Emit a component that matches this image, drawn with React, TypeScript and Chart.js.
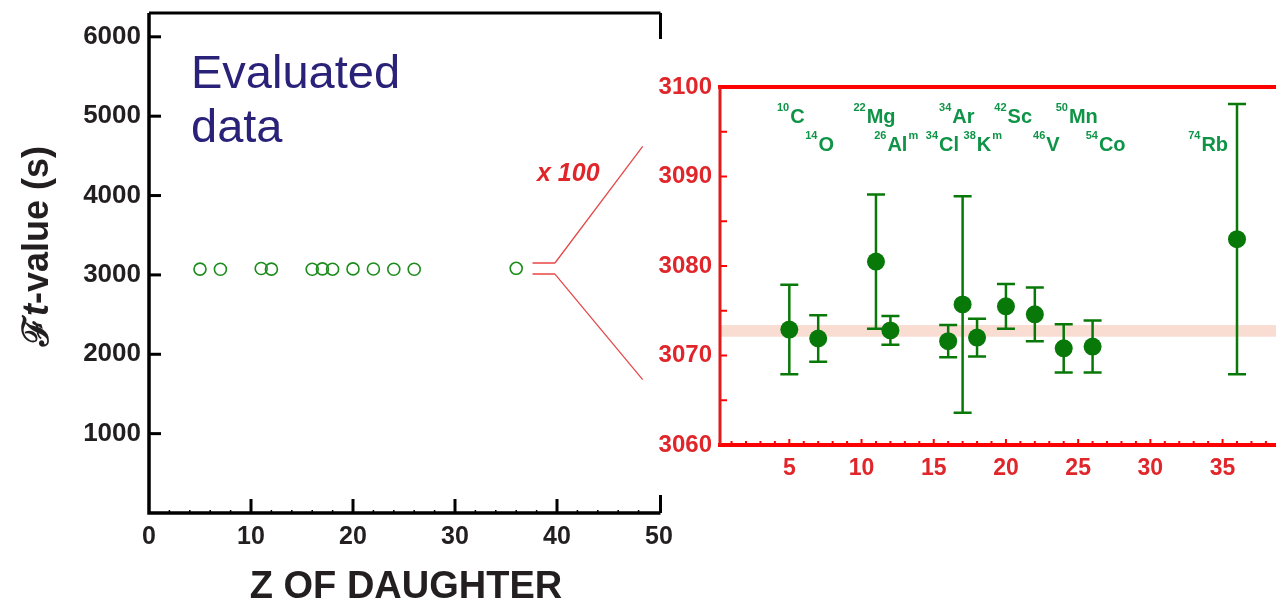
import React, { useEffect, useRef } from "react";
import { Chart, registerables } from "chart.js";

Chart.register(...registerables);

// ---------- data ----------
const zDaughter = [5, 7, 11, 12, 16, 17, 18, 20, 22, 24, 26, 36];
const ftValue = [3072.9, 3071.9, 3080.5, 3072.8, 3071.6, 3075.7, 3072.0, 3075.5, 3074.6, 3070.8, 3071.0, 3083.0];
const ftError = [5.0, 2.6, 7.5, 1.6, 1.8, 12.1, 2.1, 2.5, 3.0, 2.7, 2.9, 15.1];

const massNumbers = ["10", "14", "22", "26", "34", "34", "38", "42", "46", "50", "54", "74"];
const elements = ["C", "O", "Mg", "Al", "Cl", "Ar", "K", "Sc", "V", "Mn", "Co", "Rb"];
const isomerMarks = ["", "", "", "m", "", "", "m", "", "", "", "", ""];
const labelRows = [0, 1, 0, 1, 1, 0, 1, 0, 1, 0, 1, 1];
const labelZ = [5.1, 7.1, 10.9, 12.4, 15.6, 16.6, 18.4, 20.5, 22.8, 24.9, 26.9, 34.0];

const averageBand = [3072.1, 3073.4];

const leftXTicks = [0, 10, 20, 30, 40, 50];
const leftYTicks = [1000, 2000, 3000, 4000, 5000, 6000];
const rightXTicks = [5, 10, 15, 20, 25, 30, 35];
const rightYTicks = [3060, 3070, 3080, 3090, 3100];

// ---------- styles ----------
const FONT = '"Liberation Sans", Arial, Helvetica, sans-serif';
const BLACK = "#231f20";
const RED_TXT = "#e0262a";
const RED = "#ff0000";
const GREEN_OPEN = "#1c8c1c";
const GREEN_PT = "#087808";
const GREEN_LBL = "#0f9447";
const NAVY = "#2a2279";

// decorative zoom bracket (left-chart data units)
const bracket = { x0: 37.6, x1: 39.8, x2: 48.4, yHi: 3150, yLo: 3010, yHiEnd: 4620, yLoEnd: 1680 };

const plain = (v: any) => String(v);

const leftDecor = {
  id: "leftDecor",
  afterDraw(chart: any) {
    const { ctx, chartArea: a, scales } = chart;
    const xs = scales.x;
    const ys = scales.y;
    ctx.save();
    ctx.strokeStyle = "#000";
    ctx.lineCap = "butt";
    // axes frame
    ctx.lineWidth = 3.5;
    ctx.beginPath();
    ctx.moveTo(a.left, a.top);
    ctx.lineTo(a.left, a.bottom);
    ctx.lineTo(a.right + 1.5, a.bottom);
    ctx.stroke();
    ctx.lineWidth = 3;
    ctx.beginPath();
    ctx.moveTo(a.left, a.top);
    ctx.lineTo(a.right + 1.5, a.top);
    ctx.moveTo(a.right + 1.5, a.top);
    ctx.lineTo(a.right + 1.5, a.top + 26);
    ctx.moveTo(a.right + 1.5, a.bottom);
    ctx.lineTo(a.right + 1.5, a.bottom - 18);
    ctx.stroke();
    // y ticks inside
    ctx.lineWidth = 3;
    leftYTicks.forEach((v) => {
      const y = ys.getPixelForValue(v);
      ctx.beginPath();
      ctx.moveTo(a.left, y);
      ctx.lineTo(a.left + 12, y);
      ctx.stroke();
    });
    // x ticks inside
    for (let v = 2; v < 50; v += 2) {
      const x = xs.getPixelForValue(v);
      const major = v % 10 === 0;
      ctx.lineWidth = major ? 3 : 1.5;
      ctx.beginPath();
      ctx.moveTo(x, a.bottom);
      ctx.lineTo(x, a.bottom - (major ? 14 : 3));
      ctx.stroke();
    }
    // y title
    ctx.fillStyle = BLACK;
    ctx.save();
    ctx.translate(48, 246);
    ctx.rotate(-Math.PI / 2);
    const parts: [string, string][] = [
      ["ℱ", `bold 36px ${FONT}`],
      ["t", `italic bold 36px ${FONT}`],
      ["-value (s)", `bold 36px ${FONT}`],
    ];
    let total = 0;
    parts.forEach(([t, f]) => {
      ctx.font = f;
      total += ctx.measureText(t).width;
    });
    let px = -total / 2;
    ctx.textBaseline = "alphabetic";
    ctx.textAlign = "left";
    parts.forEach(([t, f]) => {
      ctx.font = f;
      ctx.fillText(t, px, 0);
      px += ctx.measureText(t).width;
    });
    ctx.restore();
    // x title
    ctx.font = `bold 38px ${FONT}`;
    ctx.textAlign = "center";
    ctx.textBaseline = "alphabetic";
    ctx.fillText("Z OF DAUGHTER", 406, 598);
    // Evaluated data
    ctx.fillStyle = NAVY;
    ctx.font = `47px ${FONT}`;
    ctx.textAlign = "left";
    ctx.fillText("Evaluated", 191, 88);
    ctx.fillText("data", 191, 142);
    // zoom bracket
    const bx0 = xs.getPixelForValue(bracket.x0);
    const bx1 = xs.getPixelForValue(bracket.x1);
    const bx2 = xs.getPixelForValue(bracket.x2);
    const yh = ys.getPixelForValue(bracket.yHi);
    const yl = ys.getPixelForValue(bracket.yLo);
    ctx.strokeStyle = "#f07373";
    ctx.lineWidth = 2;
    ctx.beginPath();
    ctx.moveTo(bx0, yh);
    ctx.lineTo(bx1, yh);
    ctx.moveTo(bx0, yl);
    ctx.lineTo(bx1, yl);
    ctx.stroke();
    ctx.strokeStyle = "#e44a4a";
    ctx.lineWidth = 1.3;
    ctx.beginPath();
    ctx.moveTo(bx1, yh);
    ctx.lineTo(bx2, ys.getPixelForValue(bracket.yHiEnd));
    ctx.moveTo(bx1, yl);
    ctx.lineTo(bx2, ys.getPixelForValue(bracket.yLoEnd));
    ctx.stroke();
    ctx.fillStyle = RED_TXT;
    ctx.font = `italic bold 25px ${FONT}`;
    ctx.fillText("x 100", 537, 181);
    ctx.restore();
  },
};

function drawIsotope(ctx: any, cx: number, baseline: number, mass: string, sym: string, iso: string) {
  const supFont = `bold 11px ${FONT}`;
  const mainFont = `bold 20px ${FONT}`;
  ctx.font = supFont;
  const wm = ctx.measureText(mass).width;
  const wi = iso ? ctx.measureText(iso).width : 0;
  ctx.font = mainFont;
  const ws = ctx.measureText(sym).width;
  const total = wm + 1 + ws + (iso ? 1 + wi : 0);
  let x = cx - total / 2;
  ctx.textAlign = "left";
  ctx.textBaseline = "alphabetic";
  ctx.font = supFont;
  ctx.fillText(mass, x, baseline - 12);
  x += wm + 1;
  ctx.font = mainFont;
  ctx.fillText(sym, x, baseline);
  x += ws + 1;
  if (iso) {
    ctx.font = supFont;
    ctx.fillText(iso, x, baseline - 12);
  }
}

const rightDecor = {
  id: "rightDecor",
  beforeDatasetsDraw(chart: any) {
    const { ctx, chartArea: a, scales } = chart;
    const xs = scales.x;
    const ys = scales.y;
    ctx.save();
    // average band
    const y1 = ys.getPixelForValue(averageBand[1]);
    const y0 = ys.getPixelForValue(averageBand[0]);
    ctx.fillStyle = "#f9ddd3";
    ctx.fillRect(a.left, y1, a.right - a.left, y0 - y1);
    // error bars
    ctx.strokeStyle = GREEN_PT;
    ctx.lineWidth = 2.5;
    zDaughter.forEach((z, i) => {
      const x = xs.getPixelForValue(z);
      const top = ys.getPixelForValue(ftValue[i] + ftError[i]);
      const bot = ys.getPixelForValue(ftValue[i] - ftError[i]);
      ctx.beginPath();
      ctx.moveTo(x, top);
      ctx.lineTo(x, bot);
      ctx.moveTo(x - 9, top);
      ctx.lineTo(x + 9, top);
      ctx.moveTo(x - 9, bot);
      ctx.lineTo(x + 9, bot);
      ctx.stroke();
    });
    ctx.restore();
  },
  afterDraw(chart: any) {
    const { ctx, chartArea: a, scales } = chart;
    const xs = scales.x;
    const ys = scales.y;
    ctx.save();
    // ticks
    ctx.strokeStyle = RED;
    ctx.lineWidth = 2;
    for (let v = 3065; v < 3100; v += 5) {
      const y = ys.getPixelForValue(v);
      ctx.beginPath();
      ctx.moveTo(a.left, y);
      ctx.lineTo(a.left + 7, y);
      ctx.stroke();
    }
    for (let v = 1; v <= 38; v += 1) {
      const x = xs.getPixelForValue(v);
      const major = v % 5 === 0;
      ctx.beginPath();
      ctx.moveTo(x, a.bottom);
      ctx.lineTo(x, a.bottom - (major ? 6 : 4));
      ctx.stroke();
    }
    // frame
    ctx.strokeStyle = RED;
    ctx.lineWidth = 4;
    ctx.beginPath();
    ctx.moveTo(a.left - 2, a.top);
    ctx.lineTo(a.right, a.top);
    ctx.moveTo(a.left - 2, a.bottom);
    ctx.lineTo(a.right, a.bottom);
    ctx.stroke();
    ctx.strokeStyle = "#e01b1b";
    ctx.lineWidth = 3;
    ctx.beginPath();
    ctx.moveTo(a.left, a.top);
    ctx.lineTo(a.left, a.bottom);
    ctx.stroke();
    // isotope labels
    ctx.fillStyle = GREEN_LBL;
    const rowBase = [a.top + 36, a.top + 64];
    elements.forEach((el, i) => {
      drawIsotope(ctx, xs.getPixelForValue(labelZ[i]), rowBase[labelRows[i]], massNumbers[i], el, isomerMarks[i]);
    });
    ctx.restore();
  },
};

function LeftChart() {
  const ref = useRef<HTMLCanvasElement>(null);
  useEffect(() => {
    const chart = new Chart(ref.current as HTMLCanvasElement, {
      type: "scatter",
      data: {
        datasets: [
          {
            data: zDaughter.map((z, i) => ({ x: z, y: ftValue[i] })),
            pointStyle: "circle",
            pointRadius: 6,
            pointBorderWidth: 1.6,
            borderColor: GREEN_OPEN,
            backgroundColor: "rgba(0,0,0,0)",
            showLine: false,
          },
        ],
      },
      options: {
        responsive: false,
        animation: false,
        layout: { padding: { top: 13, right: 41, left: 0, bottom: 0 } },
        plugins: { legend: { display: false }, tooltip: { enabled: false } },
        scales: {
          x: {
            type: "linear",
            min: 0,
            max: 50,
            afterBuildTicks: (s: any) => {
              s.ticks = leftXTicks.map((v) => ({ value: v }));
            },
            afterFit: (s: any) => {
              s.height = 87;
              s.paddingLeft = 0;
              s.paddingRight = 0;
            },
            grid: { display: false, drawTicks: false },
            border: { display: false },
            ticks: {
              padding: 9,
              color: BLACK,
              font: { family: FONT, size: 25, weight: "bold" },
              maxRotation: 0,
              autoSkip: false,
              callback: plain,
            },
          },
          y: {
            type: "linear",
            min: 0,
            max: 6300,
            afterBuildTicks: (s: any) => {
              s.ticks = leftYTicks.map((v) => ({ value: v }));
            },
            afterFit: (s: any) => {
              s.width = 149;
              s.paddingTop = 0;
              s.paddingBottom = 0;
            },
            grid: { display: false, drawTicks: false },
            border: { display: false },
            ticks: {
              padding: 8,
              color: BLACK,
              font: { family: FONT, size: 26, weight: "bold" },
              autoSkip: false,
              callback: plain,
            },
          },
        },
      },
      plugins: [leftDecor],
    } as any);
    return () => chart.destroy();
  }, []);
  return (
    <canvas
      ref={ref}
      width={700}
      height={600}
      style={{ position: "absolute", left: 0, top: 0, width: 700, height: 600 }}
    />
  );
}

function RightChart() {
  const ref = useRef<HTMLCanvasElement>(null);
  useEffect(() => {
    const chart = new Chart(ref.current as HTMLCanvasElement, {
      type: "scatter",
      data: {
        datasets: [
          {
            data: zDaughter.map((z, i) => ({ x: z, y: ftValue[i] })),
            pointStyle: "circle",
            pointRadius: 9,
            pointBorderWidth: 0,
            borderColor: GREEN_PT,
            backgroundColor: GREEN_PT,
            showLine: false,
          },
        ],
      },
      options: {
        responsive: false,
        animation: false,
        layout: { padding: { top: 87, right: 0, left: 0, bottom: 0 } },
        plugins: { legend: { display: false }, tooltip: { enabled: false } },
        scales: {
          x: {
            type: "linear",
            min: 0.2,
            max: 38.7,
            afterBuildTicks: (s: any) => {
              s.ticks = rightXTicks.map((v) => ({ value: v }));
            },
            afterFit: (s: any) => {
              s.height = 155;
              s.paddingLeft = 0;
              s.paddingRight = 0;
            },
            grid: { display: false, drawTicks: false },
            border: { display: false },
            ticks: {
              padding: 10,
              color: RED_TXT,
              font: { family: FONT, size: 23, weight: "bold" },
              maxRotation: 0,
              autoSkip: false,
              callback: plain,
            },
          },
          y: {
            type: "linear",
            min: 3060,
            max: 3100,
            afterBuildTicks: (s: any) => {
              s.ticks = rightYTicks.map((v) => ({ value: v }));
            },
            afterFit: (s: any) => {
              s.width = 120;
              s.paddingTop = 0;
              s.paddingBottom = 0;
            },
            grid: { display: false, drawTicks: false },
            border: { display: false },
            ticks: {
              padding: 8,
              color: RED_TXT,
              font: { family: FONT, size: 24, weight: "bold" },
              autoSkip: false,
              callback: plain,
            },
          },
        },
      },
      plugins: [rightDecor],
    } as any);
    return () => chart.destroy();
  }, []);
  return (
    <canvas
      ref={ref}
      width={685}
      height={600}
      style={{ position: "absolute", left: 600, top: 0, width: 685, height: 600 }}
    />
  );
}

export default function App() {
  return (
    <div style={{ position: "absolute", left: 0, top: 0, width: 1285, height: 600, background: "#fff", overflow: "hidden" }}>
      <LeftChart />
      <RightChart />
    </div>
  );
}
